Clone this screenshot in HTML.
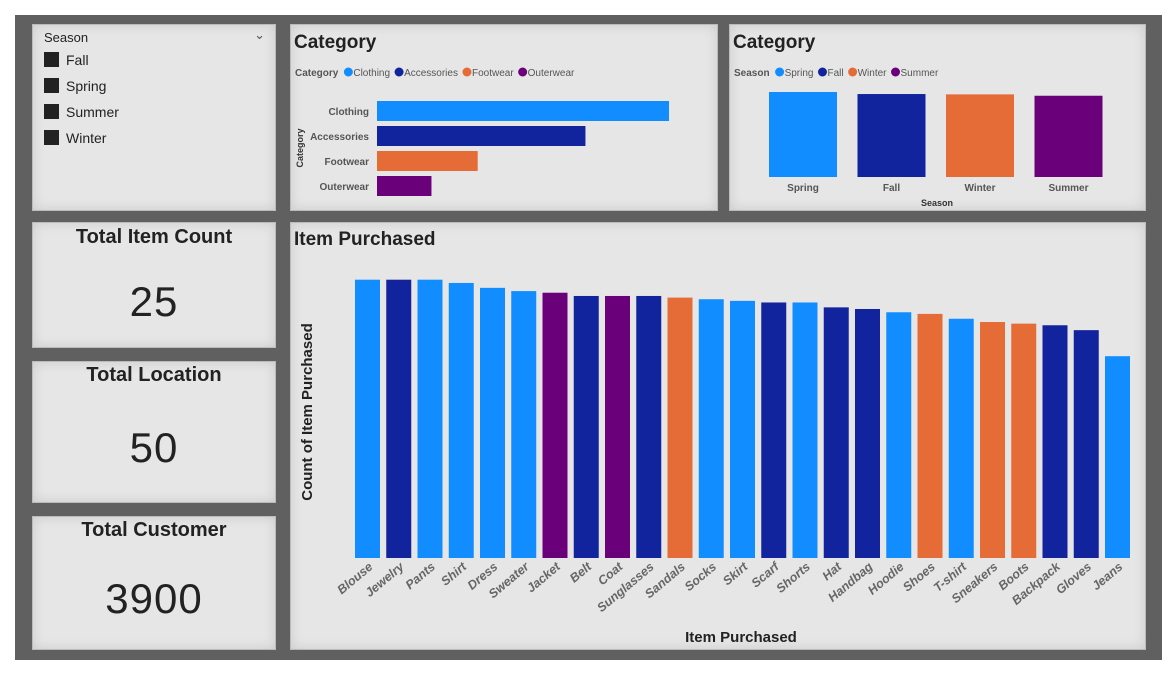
<!DOCTYPE html>
<html><head><meta charset="utf-8"><style>
body{margin:0;width:1173px;height:674px;background:#fff;position:relative;overflow:hidden;font-family:"Liberation Sans",sans-serif}
#bg{position:absolute;left:15px;top:15px;width:1147px;height:645px;background:#606060}
.p{position:absolute;background:#e6e6e6;box-shadow:inset 0 0 12px rgba(0,0,0,.12);border:1px solid #bbb;box-sizing:border-box}
.kt{position:absolute;left:0;right:0;text-align:center;font-weight:bold;font-size:20px;color:#222}
.kv{position:absolute;left:0;right:0;text-align:center;font-size:42px;color:#222;letter-spacing:1px}
.sl{position:absolute;left:11px;font-size:14px;color:#222}
.sl span{display:inline-block;width:15px;height:15px;background:#222;vertical-align:-2px;margin-right:7px}
svg text{font-family:"Liberation Sans",sans-serif}
</style></head><body>
<div id="bg"></div>
<div class="p" style="left:32px;top:24px;width:244px;height:187px">
 <div style="position:absolute;left:11px;top:5px;font-size:13px;color:#222">Season</div>
 <div style="position:absolute;right:10px;top:2px;font-size:13px;color:#555">&#8964;</div>
 <div class="sl" style="top:27px"><span></span>Fall</div>
 <div class="sl" style="top:53px"><span></span>Spring</div>
 <div class="sl" style="top:79px"><span></span>Summer</div>
 <div class="sl" style="top:105px"><span></span>Winter</div>
</div>
<div class="p" style="left:32px;top:222px;width:244px;height:126px">
 <div class="kt" style="top:3px">Total Item Count</div><div class="kv" style="top:55px">25</div></div>
<div class="p" style="left:32px;top:361px;width:244px;height:142px">
 <div class="kt" style="top:2px">Total Location</div><div class="kv" style="top:62px">50</div></div>
<div class="p" style="left:32px;top:516px;width:244px;height:134px">
 <div class="kt" style="top:2px">Total Customer</div><div class="kv" style="top:58px">3900</div></div>
<div class="p" style="left:290px;top:24px;width:428px;height:187px"></div>
<div class="p" style="left:729px;top:24px;width:417px;height:187px"></div>
<div class="p" style="left:290px;top:222px;width:856px;height:428px"></div>
<svg id="s" width="1173" height="674" style="position:absolute;left:0;top:0"></svg>
<script>
const catNames=["Clothing","Accessories","Footwear","Outerwear"];
const catValues=[1737,1240,599,324];
const seasonNames=["Spring","Fall","Winter","Summer"];
const seasonValues=[999,975,971,955];
const itemNames=["Blouse","Jewelry","Pants","Shirt","Dress","Sweater","Jacket","Belt","Coat","Sunglasses","Sandals","Socks","Skirt","Scarf","Shorts","Hat","Handbag","Hoodie","Shoes","T-shirt","Sneakers","Boots","Backpack","Gloves","Jeans"];
const itemValues=[171,171,171,169,166,164,163,161,161,161,160,159,158,157,157,154,153,151,150,147,145,144,143,140,124];
const itemCats=["Clothing","Accessories","Clothing","Clothing","Clothing","Clothing","Outerwear","Accessories","Outerwear","Accessories","Footwear","Clothing","Clothing","Accessories","Clothing","Accessories","Accessories","Clothing","Footwear","Clothing","Footwear","Footwear","Accessories","Accessories","Clothing"];
const C={Clothing:"#118dff",Accessories:"#12239e",Footwear:"#e66c37",Outerwear:"#6b007b"};
const SC=["#118dff","#12239e","#e66c37","#6b007b"];
const s=document.getElementById('s');const NS="http://www.w3.org/2000/svg";
function el(t,a,txt){const e=document.createElementNS(NS,t);for(const k in a)e.setAttribute(k,a[k]);if(txt!=null)e.textContent=txt;s.appendChild(e);return e;}
let e;
e=el('text',{x:294,y:48,'font-size':19,'font-weight':'bold',fill:'#222'},'Category');


e=el('text',{x:733,y:48,'font-size':19,'font-weight':'bold',fill:'#222'},'Category');


e=el('text',{x:294,y:245,'font-size':19,'font-weight':'bold',fill:'#222'},'Item Purchased');


function legend(x,y,title,names,cols,nm){
 e=el('text',{x:x,y:y+4,'font-size':10,'font-weight':'bold',fill:'#555'},title);
 
 
 let cx=x+e.getComputedTextLength()+10;
 names.forEach((n,i)=>{
  e=el('circle',{cx:cx,cy:y,r:4.5,fill:cols[i]});
  
  
  e=el('text',{x:cx+5,y:y+4,'font-size':10,fill:'#555'},n);
  
  
  cx+=5+e.getComputedTextLength()+9;
 });
}
legend(295,72,"Category",catNames,SC,'category');
legend(734,72,"Season",seasonNames,SC,'season');
const hx0=377,hScale=292/1737;
catNames.forEach((n,i)=>{
 const y=101+i*25;
 e=el('rect',{x:hx0,y:y,width:catValues[i]*hScale,height:20,fill:SC[i]});
 
 
 e=el('text',{x:369,y:y+14,'font-size':10,'font-weight':'bold',fill:'#555','text-anchor':'end'},n);
 
 
});
e=el('text',{x:0,y:0,'font-size':9,'font-weight':'bold',fill:'#333','text-anchor':'middle',transform:'translate(303,148) rotate(-90)'},'Category');


const sBase=177,sScale=85/999;
seasonNames.forEach((n,i)=>{
 const x=769+i*88.5,h=seasonValues[i]*sScale;
 e=el('rect',{x:x,y:sBase-h,width:68,height:h,fill:SC[i]});
 
 
 e=el('text',{x:x+34,y:191,'font-size':10,'font-weight':'bold',fill:'#555','text-anchor':'middle'},n);
 
 
});
e=el('text',{x:937,y:206,'font-size':9,'font-weight':'bold',fill:'#333','text-anchor':'middle'},'Season');


const iBase=558,iScale=278.3/171,ix0=355,istep=31.25,iw=25;
itemNames.forEach((n,i)=>{
 const x=ix0+i*istep,h=itemValues[i]*iScale;
 e=el('rect',{x:x,y:iBase-h,width:iw,height:h,fill:C[itemCats[i]]});
 
 
 e=el('text',{x:0,y:0,'font-size':12.5,'font-weight':'bold','font-style':'italic',fill:'#666','text-anchor':'end',transform:`translate(${x+iw/2+6},${iBase+10}) rotate(-40)`},n);
 
 
});
e=el('text',{x:741,y:642,'font-size':15,'font-weight':'bold',fill:'#222','text-anchor':'middle'},'Item Purchased');


e=el('text',{x:0,y:0,'font-size':15,'font-weight':'bold',fill:'#222','text-anchor':'middle',transform:'translate(312,412) rotate(-90)'},'Count of Item Purchased');


</script>
</body></html>
